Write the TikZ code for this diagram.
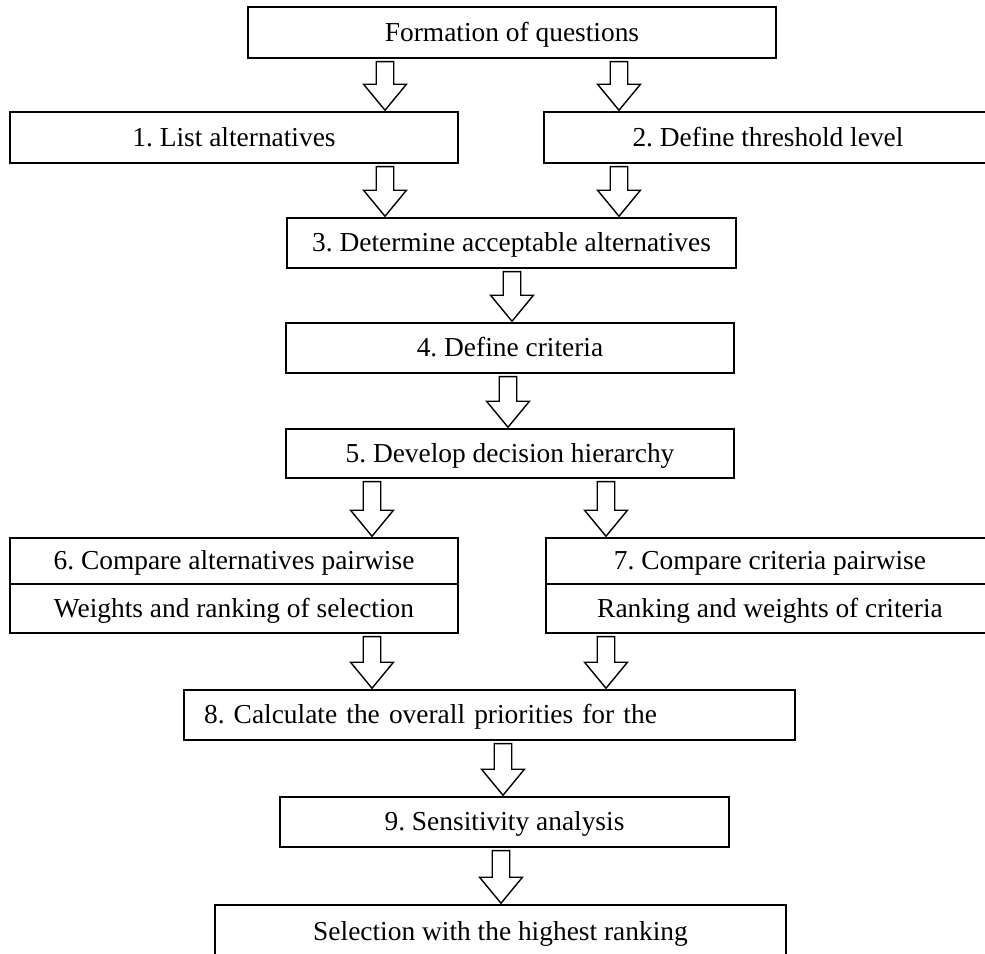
\documentclass[tikz,border=0pt]{standalone}
\usepackage{fontspec}
\setmainfont{Liberation Serif}
\usetikzlibrary{calc}
\frenchspacing
\newcommand{\blockarr}[3]{%
  \draw[blockarrow] let \p1=(#1.south -| #3), \p2=(#2.north -| #3) in
    ({\x1-5pt},{\y1-1.7pt}) -- ({\x1-5pt},{\y2+15.4pt}) -- ({\x1-12.2pt},{\y2+15.4pt})
    -- ({\x1},{\y2+0.6pt}) -- ({\x1+12.2pt},{\y2+15.4pt}) -- ({\x1+5pt},{\y2+15.4pt})
    -- ({\x1+5pt},{\y1-1.7pt}) -- cycle;}
\begin{document}
\begin{tikzpicture}[x=0.02cm, y=-0.02cm,
    flowbox/.style={draw, line width=0.8pt, minimum height=1.0cm, inner sep=0pt, text height=12pt, text depth=2pt, font=\fontsize{15.6}{18}\selectfont},
    blockarrow/.style={draw, line width=0.8pt, line join=miter}]
  \useasboundingbox (0,0) rectangle (985,954);
  \node[flowbox, minimum width=10.56cm, minimum height=1.02cm] (q) at (512,32.5) {Formation of questions};
  \node[flowbox, minimum width=8.96cm, minimum height=1.02cm] (s1) at (234,137.5) {1. List alternatives};
  \node[flowbox, minimum width=8.96cm, minimum height=1.02cm] (s2) at (768,137.5) {2. Define threshold level};
  \node[flowbox, minimum width=8.98cm] (s3) at (511.5,243) {3. Determine acceptable alternatives};
  \node[flowbox, minimum width=8.96cm] (s4) at (510,348) {4. Define criteria};
  \node[flowbox, minimum width=8.96cm, minimum height=0.98cm] (s5) at (510,453.5) {5. Develop decision hierarchy};
  \node[flowbox, minimum width=8.96cm, minimum height=0.92cm] (s6) at (234,561) {6. Compare alternatives pairwise};
  \node[flowbox, minimum width=8.96cm, minimum height=0.98cm] (s6w) at (234,608.5) {Weights and ranking of selection};
  \node[flowbox, minimum width=8.96cm, minimum height=0.92cm] (s7) at (770,561) {7. Compare criteria pairwise};
  \node[flowbox, minimum width=8.96cm, minimum height=0.98cm] (s7w) at (770,608.5) {Ranking and weights of criteria};
  \node[flowbox, minimum width=12.22cm, text width=11.42cm, inner xsep=0.4cm, align=left] (s8) at (489.5,715) {\mbox{8. Calculate the overall priorities for the}};
  \node[flowbox, minimum width=8.98cm] (s9) at (504.5,822) {9. Sensitivity analysis};
  \node[flowbox, minimum width=11.42cm, minimum height=1.08cm] (sel) at (500.5,932) {Selection with the highest ranking};
  \coordinate (c1) at (385,0);
  \coordinate (c2) at (619,0);
  \coordinate (c3) at (512,0);
  \coordinate (c4) at (508,0);
  \coordinate (c5) at (372,0);
  \coordinate (c6) at (606,0);
  \coordinate (c7) at (503,0);
  \coordinate (c8) at (501,0);
  \blockarr{q}{s1}{c1}
  \blockarr{q}{s2}{c2}
  \blockarr{s1}{s3}{c1}
  \blockarr{s2}{s3}{c2}
  \blockarr{s3}{s4}{c3}
  \blockarr{s4}{s5}{c4}
  \blockarr{s5}{s6}{c5}
  \blockarr{s5}{s7}{c6}
  \blockarr{s6w}{s8}{c5}
  \blockarr{s7w}{s8}{c6}
  \blockarr{s8}{s9}{c7}
  \blockarr{s9}{sel}{c8}
\end{tikzpicture}
\end{document}
